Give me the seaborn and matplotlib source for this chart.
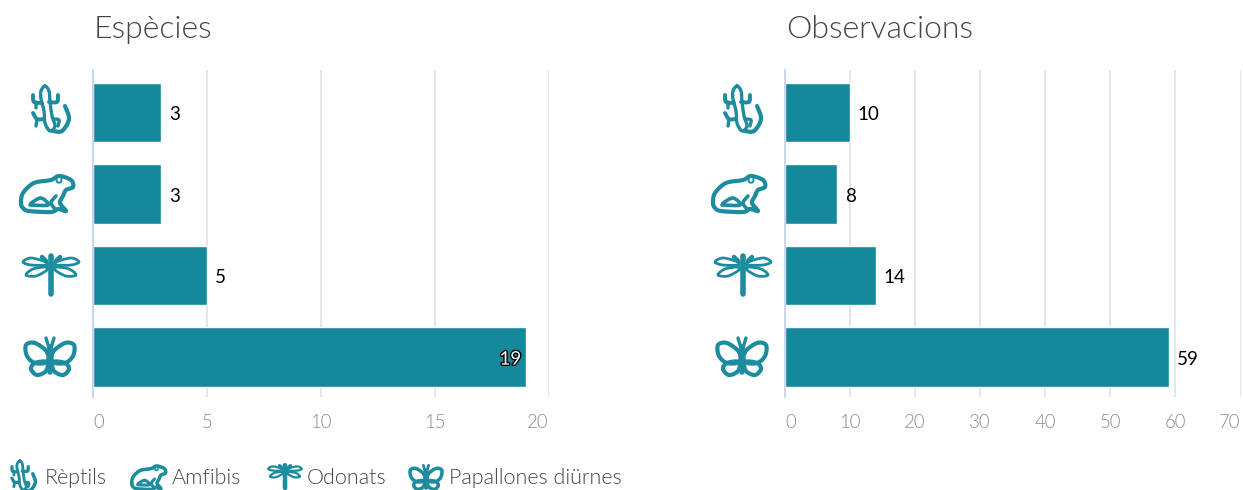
import numpy as np
import pandas as pd
import matplotlib
matplotlib.use("Agg")
import matplotlib.pyplot as plt
import matplotlib.patheffects as pe
from matplotlib.path import Path
from matplotlib.patches import PathPatch
import seaborn as sns

groups = ["Rèptils", "Amfibis", "Odonats", "Papallones diürnes"]
especies = [3, 3, 5, 19]
observacions = [10, 8, 14, 59]
ticks_esp = [0, 5, 10, 15, 20]
ticks_obs = [0, 10, 20, 30, 40, 50, 60, 70]
titles = ["Espècies", "Observacions"]

BAR = "#15889B"
ICON = "#1D8C9F"
W, H = 1243, 490

sns.set_theme(style="white")
plt.rcParams["font.family"] = ["Lato", "DejaVu Sans"]

fig = plt.figure(figsize=(W / 100, H / 100), dpi=100)


def make_axes(x0, x1, y0=70, y1=397):
    return fig.add_axes([x0 / W, 1 - y1 / H, (x1 - x0) / W, (y1 - y0) / H])


def panel(ax, values, ticks, title, title_x):
    df = pd.DataFrame({"g": groups, "v": values})
    sns.barplot(data=df, y="g", x="v", orient="h", color=BAR, saturation=1,
                width=0.725, edgecolor="white", linewidth=1.0, ax=ax, zorder=3)
    ax.set_xlim(ticks[0], ticks[-1])
    ax.set_ylim(3.49, -0.52)
    ax.set_xlabel("")
    ax.set_ylabel("")
    ax.set_yticks([])
    ax.set_xticks(ticks)
    ax.set_xticklabels([str(t) for t in ticks], fontsize=13.4, color="#8A8A8A",
                        fontweight=300)
    labels = ax.get_xticklabels()
    labels[0].set_ha("left")
    labels[-1].set_ha("right")
    ax.tick_params(axis="x", length=0, pad=12.5)
    ax.grid(axis="x", color="#E6E6E6", linewidth=1.5, zorder=0)
    ax.set_axisbelow(True)
    for s in ["top", "right", "bottom"]:
        ax.spines[s].set_visible(False)
    ax.spines["left"].set_color("#CCD6EB")
    ax.spines["left"].set_linewidth(1.5)
    ax.spines["left"].set_zorder(5)
    for i, v in enumerate(values):
        if v / ticks[-1] > 0.9:
            ax.annotate(str(v), (v, i), xytext=(-3.5, -1.5), textcoords="offset points",
                        ha="right", va="center", fontsize=13.5, color="white",
                        zorder=6,
                        path_effects=[pe.withStroke(linewidth=2, foreground="black")])
        else:
            ax.annotate(str(v), (v, i), xytext=(5.5, -1.5), textcoords="offset points",
                        ha="left", va="center", fontsize=13.5, color="black", zorder=6)
    fig.text(title_x / W, 1 - 29 / H, title, fontsize=23, color="#444444",
             fontweight=300, ha="left", va="center")


panel(make_axes(93, 549), especies, ticks_esp, titles[0], 94)
panel(make_axes(785, 1240.5), observacions, ticks_obs, titles[1], 786)

# overlay in pixel coordinates for the pictograms and the legend
ov = fig.add_axes([0, 0, 1, 1], zorder=10)
ov.set_xlim(0, W)
ov.set_ylim(H, 0)
ov.axis("off")
ov.patch.set_alpha(0)


def spline(points, closed=True):
    p = np.asarray(points, float)
    n = len(p)
    verts = [p[0]]
    codes = [Path.MOVETO]
    rng = n if closed else n - 1
    for i in range(rng):
        if closed:
            p0, p1, p2, p3 = p[(i - 1) % n], p[i], p[(i + 1) % n], p[(i + 2) % n]
        else:
            p0, p1, p2, p3 = p[max(i - 1, 0)], p[i], p[i + 1], p[min(i + 2, n - 1)]
        verts += [p1 + (p2 - p0) / 6, p2 - (p3 - p1) / 6, p2]
        codes += [Path.CURVE4] * 3
    return Path(verts, codes)


# each shape: (points, closed, width factor); units are pixels at scale 1
LIZARD = [
    ([(-5, -25), (-1, -20), (0, -10), (2, 5), (5, 15), (0, 20), (-5, 12), (-6, 0), (-9, -12), (-9, -20)], True, 1.2),
    ([(-8, -8), (-16, -9), (-17, -16)], False, 1.4),
    ([(-14, -9), (-14, -3)], False, 1.2),
    ([(-1, -9), (7, -9), (8, -16)], False, 1.4),
    ([(-6, 8), (-13, 8), (-17, 2)], False, 1.4),
    ([(-13, 8), (-14, 15)], False, 1.2),
    ([(4, 8), (9, 9), (8, 15)], False, 1.2),
    ([(3, 20), (12, 20), (19, 8), (15, -5)], False, 1.5),
]
FROG = [
    ([(-25, 10), (-23, 0), (-12, -10), (5, -13), (13, -17), (25, -13), (27, -6), (20, -3), (17, 3), (14, 10),
      (20, 18), (12, 16), (5, 19), (-17, 18), (-23, 15)], True, 1.5),
    ([(-15, 10), (-5, 5), (2, 12), (-16, 12)], False, 1.3),
    ([(10, 3), (5, 10), (10, 17)], False, 1.3),
    ([(11, -16), (15, -16), (15, -11), (11, -11)], True, 0.7),
]
DRAGONFLY = [
    ([(-5, -2), (-20, -6), (-28, -2), (-20, 1), (-5, 1)], True, 1.0),
    ([(5, -2), (20, -6), (28, -2), (20, 1), (5, 1)], True, 1.0),
    ([(-5, 3), (-18, 5), (-25, 11), (-15, 12), (-4, 6)], True, 1.0),
    ([(5, 3), (18, 5), (25, 11), (15, 12), (4, 6)], True, 1.0),
    ([(0, -8), (0, 30)], False, 2.0),
    ([(-9, -7), (-5, -3)], False, 1.6),
    ([(9, -7), (5, -3)], False, 1.6),
]
BUTTERFLY = [
    ([(-3, -4), (-15, -13), (-24, -11), (-23, 0), (-15, 7), (-3, 6)], True, 1.5),
    ([(3, -4), (15, -13), (24, -11), (23, 0), (15, 7), (3, 6)], True, 1.5),
    ([(-3, 6), (-15, 7), (-19, 13), (-13, 19), (-4, 15)], True, 1.5),
    ([(3, 6), (15, 7), (19, 13), (13, 19), (4, 15)], True, 1.5),
    ([(0, -9), (0, 16)], False, 2.0),
    ([(-4, -18), (-1, -8)], False, 1.2),
    ([(4, -18), (1, -8)], False, 1.2),
]
ICONS = [LIZARD, FROG, DRAGONFLY, BUTTERFLY]


def draw_icon(shapes, cx, cy, scale):
    for pts, closed, wf in shapes:
        xy = np.asarray(pts, float) * scale + (cx, cy)
        ov.add_patch(PathPatch(spline(xy, closed), fc="none", ec=ICON,
                               lw=2.0 * wf * (0.55 + 0.45 * scale),
                               capstyle="round", joinstyle="round", clip_on=False))


for x_off in (0, 692):
    for shapes, cy, cx in zip(ICONS, [111, 193, 264, 356], [50, 46, 51, 50]):
        draw_icon(shapes, cx + x_off, cy, 1)

for shapes, name, ix, iy, tx, sc in zip(ICONS, groups, [23, 148, 285, 426], [477, 477, 470, 477],
                                        [45, 172, 307, 449], [0.65, 0.65, 0.6, 0.65]):
    draw_icon(shapes, ix, iy, sc)
    ov.text(tx, 478, name, fontsize=15.5, color="#444444", fontweight=300,
            ha="left", va="center")

fig.savefig("out.png", dpi=100, facecolor="white")
